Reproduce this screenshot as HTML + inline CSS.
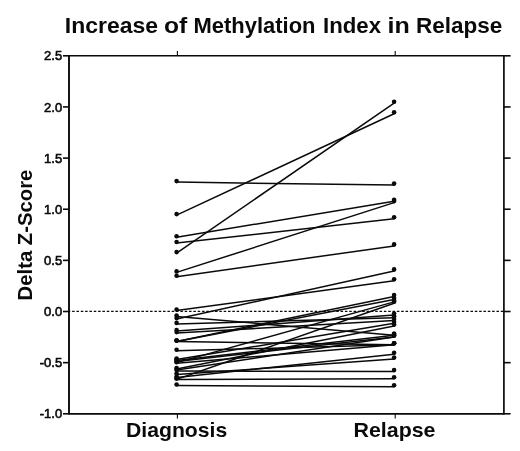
<!DOCTYPE html>
<html><head><meta charset="utf-8"><title>Increase of Methylation Index in Relapse</title>
<style>
html,body{margin:0;padding:0;background:#fff;}
body{width:520px;height:451px;overflow:hidden;font-family:"Liberation Sans",sans-serif;}
svg{display:block;will-change:transform;opacity:0.999;}
text{font-family:"Liberation Sans",sans-serif;fill:#0a0a0a;}
</style></head><body>
<svg width="520" height="451" viewBox="0 0 520 451">
<rect width="520" height="451" fill="#ffffff"/>
<g font-size="22" font-weight="bold"><text x="64.75" y="32.8" textLength="93.25" lengthAdjust="spacingAndGlyphs">Increase</text><text x="164.00" y="32.8" textLength="23.25" lengthAdjust="spacingAndGlyphs">of</text><text x="193.50" y="32.8" textLength="122.00" lengthAdjust="spacingAndGlyphs">Methylation</text><text x="323.00" y="32.8" textLength="58.00" lengthAdjust="spacingAndGlyphs">Index</text><text x="387.50" y="32.8" textLength="22.25" lengthAdjust="spacingAndGlyphs">in</text><text x="416.00" y="32.8" textLength="86.25" lengthAdjust="spacingAndGlyphs">Relapse</text></g>
<g stroke="#0a0a0a" stroke-width="1.9" fill="none" stroke-linecap="butt">
<line x1="69.0" y1="55.0" x2="69.0" y2="414.6" stroke-width="1.9"/>
<line x1="503.9" y1="55.0" x2="503.9" y2="414.6" stroke-width="1.7"/>
<line x1="69.0" y1="55.8" x2="503.9" y2="55.8" stroke-width="1.55"/>
<line x1="69.0" y1="413.8" x2="503.9" y2="413.8" stroke-width="1.75"/>
</g>
<g stroke="#0a0a0a" stroke-width="1.6" fill="none">
<line x1="63" y1="55.80" x2="69.0" y2="55.80"/><line x1="63" y1="106.94" x2="69.0" y2="106.94"/><line x1="63" y1="158.09" x2="69.0" y2="158.09"/><line x1="63" y1="209.23" x2="69.0" y2="209.23"/><line x1="63" y1="260.37" x2="69.0" y2="260.37"/><line x1="63" y1="311.51" x2="69.0" y2="311.51"/><line x1="63" y1="362.66" x2="69.0" y2="362.66"/><line x1="63" y1="413.80" x2="69.0" y2="413.80"/>
<line x1="503.9" y1="55.80" x2="510.6" y2="55.80"/><line x1="503.9" y1="106.94" x2="510.6" y2="106.94"/><line x1="503.9" y1="158.09" x2="510.6" y2="158.09"/><line x1="503.9" y1="209.23" x2="510.6" y2="209.23"/><line x1="503.9" y1="260.37" x2="510.6" y2="260.37"/><line x1="503.9" y1="311.51" x2="510.6" y2="311.51"/><line x1="503.9" y1="362.66" x2="510.6" y2="362.66"/><line x1="503.9" y1="413.80" x2="510.6" y2="413.80"/>
<line x1="177.4" y1="51" x2="177.4" y2="55.8" stroke-width="1.1"/>
<line x1="395.2" y1="51" x2="395.2" y2="55.8" stroke-width="1.1"/>
<line x1="177.4" y1="413.8" x2="177.4" y2="418.6" stroke-width="1.1"/>
<line x1="395.2" y1="413.8" x2="395.2" y2="418.6" stroke-width="1.1"/>
</g>
<line x1="67.8" y1="311.4" x2="503.9" y2="311.4" stroke="#0a0a0a" stroke-width="1.3" stroke-dasharray="2.5 1.83"/>
<g font-size="13" stroke="#0a0a0a" stroke-width="0.6">
<text x="62.2" y="60.40" text-anchor="end">2.5</text><text x="62.2" y="111.54" text-anchor="end">2.0</text><text x="62.2" y="162.69" text-anchor="end">1.5</text><text x="62.2" y="213.83" text-anchor="end">1.0</text><text x="62.2" y="264.97" text-anchor="end">0.5</text><text x="62.2" y="316.11" text-anchor="end">0.0</text><text x="62.2" y="367.26" text-anchor="end">-0.5</text><text x="62.2" y="418.40" text-anchor="end">-1.0</text>
</g>
<g stroke="#0a0a0a" stroke-width="1.5" fill="none" stroke-linecap="round">
<line x1="176.6" y1="182.10" x2="394.1" y2="185.10"/><line x1="176.6" y1="215.10" x2="394.1" y2="113.80"/><line x1="176.6" y1="237.20" x2="394.1" y2="201.30"/><line x1="176.6" y1="243.00" x2="394.1" y2="218.80"/><line x1="176.6" y1="253.10" x2="394.1" y2="103.20"/><line x1="176.6" y1="272.40" x2="394.1" y2="202.60"/><line x1="176.6" y1="276.70" x2="394.1" y2="245.90"/><line x1="176.6" y1="310.50" x2="394.1" y2="280.80"/><line x1="176.6" y1="319.10" x2="394.1" y2="270.90"/><line x1="176.6" y1="316.50" x2="394.1" y2="335.20"/><line x1="176.6" y1="323.90" x2="394.1" y2="317.70"/><line x1="176.6" y1="331.10" x2="394.1" y2="315.10"/><line x1="176.6" y1="333.10" x2="394.1" y2="320.50"/><line x1="176.6" y1="341.50" x2="394.1" y2="296.60"/><line x1="176.6" y1="341.50" x2="394.1" y2="344.80"/><line x1="176.6" y1="350.80" x2="394.1" y2="344.80"/><line x1="176.6" y1="359.60" x2="394.1" y2="323.30"/><line x1="176.6" y1="360.60" x2="394.1" y2="335.20"/><line x1="176.6" y1="361.60" x2="394.1" y2="336.90"/><line x1="176.6" y1="341.50" x2="394.1" y2="299.60"/><line x1="176.6" y1="362.60" x2="394.1" y2="301.90"/><line x1="176.6" y1="363.20" x2="394.1" y2="344.80"/><line x1="176.6" y1="369.00" x2="394.1" y2="326.10"/><line x1="176.6" y1="370.00" x2="394.1" y2="336.90"/><line x1="176.6" y1="371.00" x2="394.1" y2="371.60"/><line x1="176.6" y1="374.60" x2="394.1" y2="359.10"/><line x1="176.6" y1="377.40" x2="394.1" y2="354.30"/><line x1="176.6" y1="379.40" x2="394.1" y2="303.20"/><line x1="176.6" y1="379.40" x2="394.1" y2="378.70"/><line x1="176.6" y1="385.50" x2="394.1" y2="386.80"/>
</g>
<g fill="#0a0a0a" stroke="none">
<circle cx="176.6" cy="181.1" r="2.3"/><circle cx="394.1" cy="183.6" r="2.3"/><circle cx="176.6" cy="214.1" r="2.3"/><circle cx="394.1" cy="112.3" r="2.3"/><circle cx="176.6" cy="236.2" r="2.3"/><circle cx="394.1" cy="199.8" r="2.3"/><circle cx="176.6" cy="242.0" r="2.3"/><circle cx="394.1" cy="217.3" r="2.3"/><circle cx="176.6" cy="252.1" r="2.3"/><circle cx="394.1" cy="101.7" r="2.3"/><circle cx="176.6" cy="271.4" r="2.3"/><circle cx="394.1" cy="201.1" r="2.3"/><circle cx="176.6" cy="275.7" r="2.3"/><circle cx="394.1" cy="244.4" r="2.3"/><circle cx="176.6" cy="309.5" r="2.3"/><circle cx="394.1" cy="279.3" r="2.3"/><circle cx="176.6" cy="318.1" r="2.3"/><circle cx="394.1" cy="269.4" r="2.3"/><circle cx="176.6" cy="315.5" r="2.3"/><circle cx="394.1" cy="333.7" r="2.3"/><circle cx="176.6" cy="322.9" r="2.3"/><circle cx="394.1" cy="316.2" r="2.3"/><circle cx="176.6" cy="330.1" r="2.3"/><circle cx="394.1" cy="313.6" r="2.3"/><circle cx="176.6" cy="332.1" r="2.3"/><circle cx="394.1" cy="319.0" r="2.3"/><circle cx="176.6" cy="340.5" r="2.3"/><circle cx="394.1" cy="295.1" r="2.3"/><circle cx="176.6" cy="340.5" r="2.3"/><circle cx="394.1" cy="343.3" r="2.3"/><circle cx="176.6" cy="349.8" r="2.3"/><circle cx="394.1" cy="343.3" r="2.3"/><circle cx="176.6" cy="358.6" r="2.3"/><circle cx="394.1" cy="321.8" r="2.3"/><circle cx="176.6" cy="359.6" r="2.3"/><circle cx="394.1" cy="333.7" r="2.3"/><circle cx="176.6" cy="360.6" r="2.3"/><circle cx="394.1" cy="335.4" r="2.3"/><circle cx="176.6" cy="340.5" r="2.3"/><circle cx="394.1" cy="298.1" r="2.3"/><circle cx="176.6" cy="361.6" r="2.3"/><circle cx="394.1" cy="300.4" r="2.3"/><circle cx="176.6" cy="362.2" r="2.3"/><circle cx="394.1" cy="343.3" r="2.3"/><circle cx="176.6" cy="368.0" r="2.3"/><circle cx="394.1" cy="324.6" r="2.3"/><circle cx="176.6" cy="369.0" r="2.3"/><circle cx="394.1" cy="335.4" r="2.3"/><circle cx="176.6" cy="370.0" r="2.3"/><circle cx="394.1" cy="370.1" r="2.3"/><circle cx="176.6" cy="373.6" r="2.3"/><circle cx="394.1" cy="357.6" r="2.3"/><circle cx="176.6" cy="376.4" r="2.3"/><circle cx="394.1" cy="352.8" r="2.3"/><circle cx="176.6" cy="378.4" r="2.3"/><circle cx="394.1" cy="301.7" r="2.3"/><circle cx="176.6" cy="378.4" r="2.3"/><circle cx="394.1" cy="377.2" r="2.3"/><circle cx="176.6" cy="384.5" r="2.3"/><circle cx="394.1" cy="385.3" r="2.3"/>
</g>
<text transform="translate(32.0,300.4) rotate(-90)" font-size="20.8" font-weight="bold" textLength="130.8" lengthAdjust="spacingAndGlyphs">Delta Z-Score</text>
<text x="126.0" y="437.4" font-size="21" font-weight="bold" textLength="101.2" lengthAdjust="spacingAndGlyphs">Diagnosis</text>
<text x="353.5" y="437.4" font-size="21" font-weight="bold" textLength="82" lengthAdjust="spacingAndGlyphs">Relapse</text>
</svg>
</body></html>
